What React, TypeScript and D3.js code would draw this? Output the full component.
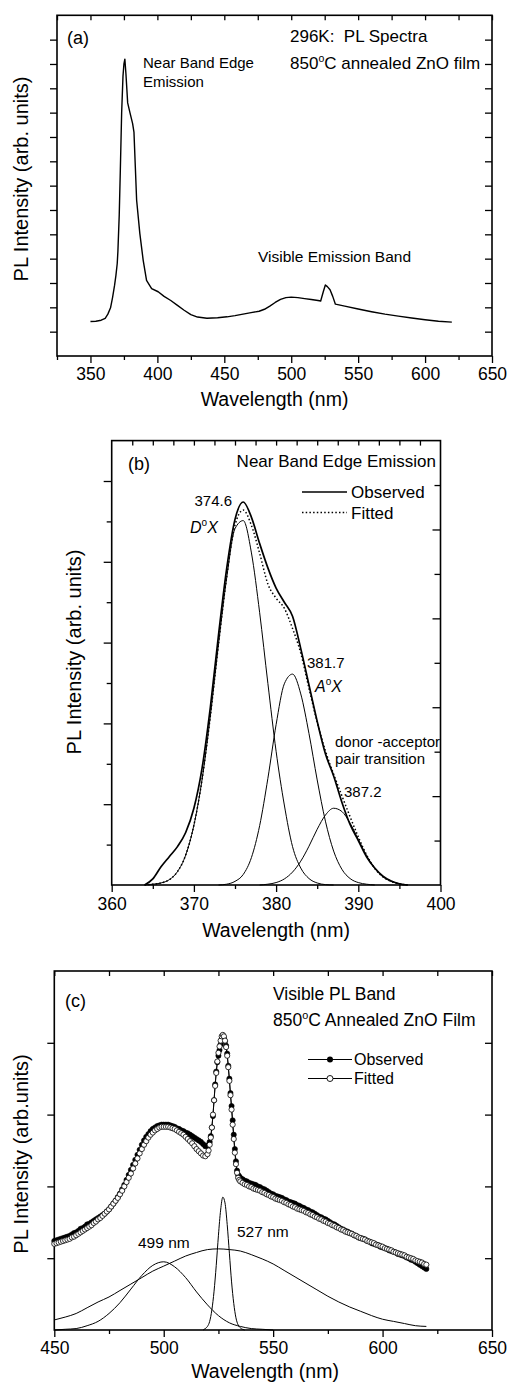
import { useEffect, useRef } from 'react';
import * as d3 from 'd3';

const FONT = '"Liberation Sans", Arial, Helvetica, sans-serif';

// ---------- (a) full PL spectrum at 296 K ----------
const specAWl = [350, 354, 358, 361, 363, 365, 366.5, 368, 369, 370, 370.5, 371.5, 372.3, 373.3, 374.3, 375, 375.7, 376.5, 377.8, 379.5,
  381.5, 382.5, 383.5, 384.5, 386.9, 389.4, 391.9, 395.7, 400.6, 405, 410, 415, 420, 425, 430, 437, 445, 452, 458, 464,
  470, 476, 480, 484, 488, 492, 496, 500, 505, 510, 515, 520, 522, 524, 525.5, 527, 529, 531, 533, 540,
  550, 560, 570, 580, 590, 600, 610, 620];
const specAInt = [1.42, 1.43, 1.47, 1.55, 1.72, 1.98, 2.4, 2.9, 3.3, 3.8, 4.3, 5.8, 7.6, 10.0, 11.5, 12.0, 12.2, 11.6, 10.4, 10.0,
  9.55, 9.2, 7.8, 6.4, 5.03, 3.93, 3.11, 2.77, 2.64, 2.45, 2.28, 2.08, 1.88, 1.70, 1.60, 1.55, 1.57, 1.61, 1.66, 1.72,
  1.78, 1.84, 1.92, 2.05, 2.20, 2.33, 2.40, 2.42, 2.40, 2.36, 2.32, 2.28, 2.26, 2.65, 2.92, 2.85, 2.72, 2.45, 2.13, 2.05,
  1.93, 1.82, 1.72, 1.64, 1.56, 1.49, 1.43, 1.39];

// ---------- (b) near band edge emission ----------
const nbeWl = [364, 365, 366, 367, 368, 369, 370, 371, 372, 373, 374, 375, 376, 377, 378, 379, 380,
  381, 382, 383, 384, 385, 386, 387, 388, 389, 390, 391, 392, 393, 394, 395, 396];
const nbeObserved = [0.00, 0.15, 0.45, 0.70, 0.95, 1.30, 1.90, 2.90, 4.40, 6.20, 7.85, 9.05, 9.48, 9.10, 8.45, 7.85, 7.35,
  7.00, 6.65, 5.85, 4.95, 4.05, 3.25, 2.70, 2.05, 1.50, 1.10, 0.70, 0.42, 0.22, 0.10, 0.03, 0.00];
const nbeFitted = [0.00, 0.02, 0.05, 0.13, 0.33, 0.74, 1.48, 2.62, 4.18, 5.98, 7.64, 8.91, 9.28, 8.90, 8.21, 7.45, 7.10,
  6.85, 6.35, 5.74, 4.87, 4.03, 3.32, 2.74, 2.21, 1.69, 1.19, 0.75, 0.41, 0.20, 0.09, 0.03, 0.00];
const doxWl = [364, 365, 366, 367, 368, 369, 370, 371, 372, 373, 374, 375, 376, 377, 378, 379, 380, 381, 382, 383, 384, 385, 386, 387];
const doxInt = [0.00, 0.02, 0.05, 0.13, 0.33, 0.74, 1.48, 2.62, 4.18, 5.97, 7.62, 8.82, 9.02, 8.22, 6.74, 4.99, 3.31, 1.98, 0.95, 0.42, 0.16, 0.05, 0.01, 0.00];
const aoxWl = [373, 374, 375, 376, 377, 378, 379, 380, 381, 382, 383, 384, 385, 386, 387, 388, 389, 390, 391, 392];
const aoxInt = [0.00, 0.02, 0.09, 0.26, 0.68, 1.47, 2.64, 3.97, 4.98, 5.22, 4.73, 3.75, 2.60, 1.58, 0.84, 0.39, 0.16, 0.06, 0.02, 0.00];
const dapWl = [378, 379, 380, 381, 382, 383, 384, 385, 386, 387, 388, 389, 390, 391, 392, 393, 394, 395, 396];
const dapInt = [0.00, 0.02, 0.06, 0.15, 0.32, 0.59, 0.96, 1.38, 1.73, 1.90, 1.82, 1.53, 1.13, 0.73, 0.41, 0.20, 0.09, 0.03, 0.00];

// ---------- (c) visible PL band ----------
// sampling grid: 1 nm on the broad band, 0.5 nm across the 527 nm line
const visWl = [...d3.range(450, 520.5, 1), ...d3.range(520.5, 535.25, 0.5), ...d3.range(536, 620.5, 1)];
const visObserved = [
  // 450 - 520
  1.24, 1.25, 1.26, 1.27, 1.28, 1.29, 1.30, 1.31, 1.33, 1.35, 1.36, 1.38, 1.41, 1.42, 1.44, 1.47, 1.48, 1.50, 1.52, 1.54,
  1.56, 1.58, 1.60, 1.62, 1.65, 1.68, 1.72, 1.76, 1.80, 1.85, 1.90, 1.96, 2.02, 2.09, 2.16, 2.23, 2.30, 2.37, 2.44, 2.51,
  2.58, 2.64, 2.69, 2.73, 2.77, 2.80, 2.82, 2.84, 2.85, 2.86, 2.86, 2.86, 2.86, 2.85, 2.84, 2.83, 2.81, 2.80, 2.78, 2.77,
  2.75, 2.74, 2.72, 2.70, 2.68, 2.66, 2.64, 2.62, 2.59, 2.56, 2.56,
  // 520.5 - 535
  2.58, 2.62, 2.70, 2.82, 2.98, 3.20, 3.42, 3.60, 3.73, 3.82, 3.90, 3.98, 4.05, 4.09, 4.07, 4.02, 3.96, 3.85, 3.68, 3.50,
  3.30, 3.12, 2.92, 2.72, 2.52, 2.35, 2.22, 2.16, 2.14, 2.12,
  // 536 - 620
  2.10, 2.08, 2.07, 2.05, 2.04, 2.03, 2.02, 2.00, 1.99, 1.97, 1.96, 1.94, 1.92, 1.90, 1.89, 1.87, 1.86, 1.85, 1.84, 1.82,
  1.81, 1.79, 1.78, 1.77, 1.76, 1.74, 1.73, 1.71, 1.70, 1.68, 1.67, 1.65, 1.64, 1.62, 1.60, 1.58, 1.57, 1.55, 1.54, 1.52,
  1.50, 1.48, 1.47, 1.45, 1.43, 1.41, 1.40, 1.38, 1.37, 1.35, 1.34, 1.32, 1.31, 1.29, 1.28, 1.27, 1.26, 1.24, 1.23, 1.21,
  1.20, 1.19, 1.18, 1.16, 1.15, 1.14, 1.13, 1.11, 1.10, 1.09, 1.08, 1.06, 1.05, 1.04, 1.03, 1.01, 1.00, 0.98, 0.97, 0.95,
  0.93, 0.91, 0.89, 0.87, 0.85];
const visFitted = [
  // 450 - 520
  1.20, 1.21, 1.22, 1.23, 1.24, 1.25, 1.26, 1.27, 1.29, 1.30, 1.32, 1.34, 1.36, 1.38, 1.40, 1.42, 1.44, 1.46, 1.49, 1.51,
  1.54, 1.56, 1.59, 1.62, 1.65, 1.68, 1.72, 1.76, 1.80, 1.84, 1.89, 1.94, 2.00, 2.06, 2.12, 2.18, 2.25, 2.32, 2.39, 2.46,
  2.52, 2.58, 2.63, 2.68, 2.72, 2.75, 2.78, 2.80, 2.82, 2.83, 2.83, 2.83, 2.83, 2.82, 2.81, 2.80, 2.78, 2.76, 2.74, 2.72,
  2.69, 2.66, 2.63, 2.60, 2.56, 2.52, 2.49, 2.46, 2.43, 2.42, 2.45,
  // 520.5 - 535
  2.50, 2.58, 2.68, 2.82, 3.00, 3.20, 3.40, 3.58, 3.74, 3.86, 3.95, 4.03, 4.09, 4.11, 4.09, 4.03, 3.94, 3.82, 3.66, 3.47,
  3.27, 3.07, 2.86, 2.66, 2.47, 2.31, 2.19, 2.12, 2.09, 2.07,
  // 536 - 620
  2.05, 2.03, 2.02, 2.00, 1.99, 1.97, 1.96, 1.95, 1.94, 1.92, 1.91, 1.89, 1.88, 1.86, 1.85, 1.83, 1.82, 1.81, 1.80, 1.78,
  1.77, 1.75, 1.74, 1.72, 1.71, 1.69, 1.68, 1.67, 1.66, 1.64, 1.63, 1.61, 1.60, 1.58, 1.57, 1.55, 1.54, 1.52, 1.51, 1.49,
  1.48, 1.46, 1.45, 1.43, 1.42, 1.40, 1.39, 1.37, 1.36, 1.35, 1.34, 1.32, 1.31, 1.29, 1.28, 1.27, 1.26, 1.24, 1.23, 1.22,
  1.21, 1.19, 1.18, 1.17, 1.16, 1.14, 1.13, 1.12, 1.11, 1.09, 1.08, 1.07, 1.06, 1.05, 1.04, 1.02, 1.01, 1.00, 0.99, 0.97,
  0.96, 0.95, 0.94, 0.92, 0.91];
const g499Wl = [450, 455, 460, 465, 470, 475, 480, 485, 490, 495, 500, 505, 510, 515, 520, 525, 530, 535, 540, 545, 550];
const g499Int = [0.00, 0.01, 0.02, 0.06, 0.12, 0.23, 0.38, 0.57, 0.76, 0.90, 0.95, 0.88, 0.73, 0.53, 0.35, 0.20, 0.10, 0.05, 0.02, 0.01, 0.00];
const gBroadWl = [450, 455, 460, 465, 470, 475, 480, 485, 490, 495, 500, 505, 510, 515, 520, 525, 530, 535, 540, 545,
  550, 555, 560, 565, 570, 575, 580, 585, 590, 595, 600, 605, 610, 615, 620];
const gBroadInt = [0.14, 0.18, 0.23, 0.31, 0.39, 0.46, 0.55, 0.64, 0.73, 0.82, 0.89, 0.96, 1.03, 1.08, 1.12, 1.13, 1.12, 1.10, 1.05, 0.99,
  0.92, 0.83, 0.74, 0.65, 0.56, 0.47, 0.39, 0.32, 0.26, 0.20, 0.15, 0.12, 0.09, 0.06, 0.05];
const g527Wl = [518, 519, 520, 521, 522, 523, 524, 525, 526, 527, 528, 529, 530, 531, 532, 533, 534, 535, 536, 537];
const g527Int = [0.00, 0.02, 0.05, 0.12, 0.28, 0.54, 0.90, 1.32, 1.67, 1.85, 1.77, 1.47, 1.07, 0.67, 0.37, 0.17, 0.07, 0.03, 0.01, 0.00];

// ---------- tick values ----------
const aXMajor = [350, 400, 450, 500, 550, 600, 650];
const aXMinor = [325, 375, 425, 475, 525, 575, 625];
const aYTicks = [1, 2, 3, 4, 5, 6, 7, 8, 9, 10, 11, 12, 13];
const bXMajor = [360, 370, 380, 390, 400];
const bXMinor = [365, 375, 385, 395];
const bXTop = [362.5, 365, 367.5, 370, 372.5, 375, 377.5, 380, 382.5, 385, 387.5, 390, 392.5, 395, 397.5];
const bYMajor = [2, 4, 6, 8, 10];
const bYMinor = [1, 3, 5, 7, 9];
const bYRightMajor = [2, 4, 6, 8];
const bYRightMinor = [1, 3, 5, 7, 9];
const cXMajor = [450, 500, 550, 600, 650];
const cXMinor = [475, 525, 575, 625];
const cYTicks = [1, 2, 3, 4];

export default function App() {
  const svgRef = useRef<SVGSVGElement>(null);

  useEffect(() => {
    const svg = d3.select(svgRef.current);
    svg.selectAll('*').remove();
    svg.attr('font-family', FONT);

    const addAxis = (gen: any, tx: number, ty: number, labelY?: number, size = 17.5) => {
      const g = svg.append('g').attr('transform', `translate(${tx},${ty})`).call(gen);
      g.select('.domain').remove();
      g.attr('font-family', FONT).attr('font-size', size);
      g.selectAll('line').attr('stroke-width', 1.3);
      if (labelY != null) g.selectAll('text').attr('y', labelY).attr('dy', null).attr('fill', '#000');
      return g;
    };
    const noLabel = () => '';

    const text = (x: number, y: number, s: string, size: number, anchor = 'start') =>
      svg.append('text').attr('x', x).attr('y', y).attr('font-size', size)
        .attr('text-anchor', anchor).style('white-space', 'pre').text(s);

    const degText = (x: number, y: number, pre: string, post: string, size: number) => {
      const t = svg.append('text').attr('x', x).attr('y', y).attr('font-size', size);
      t.append('tspan').text(pre);
      t.append('tspan').attr('font-size', size * 0.62).attr('dy', -size * 0.42).text('o');
      t.append('tspan').attr('dy', size * 0.42).text(post);
    };

    const italicLabel = (x: number, y: number, letter: string) => {
      const t = svg.append('text').attr('x', x).attr('y', y).attr('font-size', 16).attr('font-style', 'italic');
      t.append('tspan').text(letter);
      t.append('tspan').attr('font-size', 10).attr('dy', -7).attr('font-style', 'normal').text('o');
      t.append('tspan').attr('dy', 7).text('X');
    };

    const yTitle = (x: number, y: number, s: string) =>
      svg.append('text').attr('transform', `translate(${x},${y}) rotate(-90)`)
        .attr('text-anchor', 'middle').attr('font-size', 20).text(s);

    const frame = (x0: number, x1: number, y0: number, y1: number) =>
      svg.append('rect').attr('x', x0).attr('y', y1).attr('width', x1 - x0).attr('height', y0 - y1)
        .attr('fill', 'none').attr('stroke', '#000').attr('stroke-width', 1.6);

    const path = (wl: number[], vals: number[], x: any, y: any, width: number, dash?: string, curve: any = d3.curveMonotoneX) => {
      const line = d3.line<number>().x((_, i) => x(wl[i])).y(d => y(d)).curve(curve);
      const p = svg.append('path').attr('d', line(vals)).attr('fill', 'none')
        .attr('stroke', '#000').attr('stroke-width', width).attr('stroke-linejoin', 'round');
      if (dash) p.attr('stroke-dasharray', dash);
      return p;
    };

    // ===== Panel (a) =====
    const xA = d3.scaleLinear().domain([325, 650]).range([57, 492]);
    const yA = d3.scaleLinear().domain([0, 14]).range([356, 15.3]);
    addAxis(d3.axisBottom(xA).tickValues(aXMinor).tickSize(4).tickFormat(noLabel), 0, 356);
    addAxis(d3.axisBottom(xA).tickValues(aXMajor).tickSize(7).tickFormat(d3.format('d')), 0, 356, 24);
    addAxis(d3.axisBottom(xA).tickValues([...aXMajor, ...aXMinor]).tickSize(5).tickFormat(noLabel), 0, 15.3);
    addAxis(d3.axisLeft(yA).tickValues(aYTicks).tickSize(7).tickFormat(noLabel), 57, 0);
    addAxis(d3.axisLeft(yA).tickValues(aYTicks).tickSize(7).tickFormat(noLabel), 492, 0);
    frame(57, 492, 356, 15.3);
    path(specAWl, specAInt, xA, yA, 1.4, undefined, d3.curveLinear);
    text(67, 44, '(a)', 18);
    text(290, 42, '296K:  PL Spectra', 17);
    degText(290, 69, '850', 'C annealed ZnO film', 17);
    text(143, 68, 'Near Band Edge', 15);
    text(143, 87, 'Emission', 15);
    text(258, 262, 'Visible Emission Band', 15.5);
    text(274.5, 406, 'Wavelength (nm)', 19.5, 'middle');
    yTitle(28, 179, 'PL Intensity (arb. units)');

    // ===== Panel (b) =====
    const xB = d3.scaleLinear().domain([360, 400]).range([111.7, 440.5]);
    const yB = d3.scaleLinear().domain([0, 11]).range([885, 440.6]);
    const yBR = d3.scaleLinear().domain([0, 10]).range([885, 440.6]);
    addAxis(d3.axisBottom(xB).tickValues(bXMinor).tickSize(4).tickFormat(noLabel), 0, 885);
    addAxis(d3.axisBottom(xB).tickValues(bXMajor).tickSize(7).tickFormat(d3.format('d')), 0, 885, 25);
    addAxis(d3.axisBottom(xB).tickValues(bXTop).tickSize(5).tickFormat(noLabel), 0, 440.6);
    addAxis(d3.axisLeft(yB).tickValues(bYMajor).tickSize(8).tickFormat(noLabel), 111.7, 0);
    addAxis(d3.axisLeft(yB).tickValues(bYMinor).tickSize(5).tickFormat(noLabel), 111.7, 0);
    addAxis(d3.axisLeft(yBR).tickValues(bYRightMajor).tickSize(8).tickFormat(noLabel), 440.5, 0);
    addAxis(d3.axisLeft(yBR).tickValues(bYRightMinor).tickSize(6).tickFormat(noLabel), 440.5, 0);
    frame(111.7, 440.5, 885, 440.6);
    path(doxWl, doxInt, xB, yB, 1);
    path(aoxWl, aoxInt, xB, yB, 1);
    path(dapWl, dapInt, xB, yB, 1);
    path(nbeWl, nbeFitted, xB, yB, 1.5, '1.5,2.2');
    path(nbeWl, nbeObserved, xB, yB, 1.7);
    text(128, 470, '(b)', 18);
    text(436, 467, 'Near Band Edge Emission', 17, 'end');
    svg.append('line').attr('x1', 302).attr('x2', 347).attr('y1', 492).attr('y2', 492)
      .attr('stroke', '#000').attr('stroke-width', 1.7);
    svg.append('line').attr('x1', 302).attr('x2', 347).attr('y1', 512.5).attr('y2', 512.5)
      .attr('stroke', '#000').attr('stroke-width', 1.5).attr('stroke-dasharray', '1.5,2.2');
    text(351, 498, 'Observed', 17);
    text(351, 519, 'Fitted', 17);
    text(232, 506, '374.6', 15, 'end');
    italicLabel(190, 533, 'D');
    text(307, 668, '381.7', 15);
    italicLabel(315, 692, 'A');
    text(335, 747, 'donor -acceptor', 15);
    text(335, 764, 'pair transition', 15);
    text(344, 797, '387.2', 15);
    text(276, 937, 'Wavelength (nm)', 19.5, 'middle');
    yTitle(81, 652, 'PL Intensity (arb. units)');

    // ===== Panel (c) =====
    const xC = d3.scaleLinear().domain([450, 650]).range([54.3, 492]);
    const yC = d3.scaleLinear().domain([0, 5]).range([1330, 971]);
    addAxis(d3.axisBottom(xC).tickValues(cXMinor).tickSize(4).tickFormat(noLabel), 0, 1330);
    addAxis(d3.axisBottom(xC).tickValues(cXMajor).tickSize(7).tickFormat(d3.format('d')), 0, 1330, 24);
    addAxis(d3.axisBottom(xC).tickValues([...cXMajor, ...cXMinor]).tickSize(5).tickFormat(noLabel), 0, 971);
    addAxis(d3.axisLeft(yC).tickValues(cYTicks).tickSize(7).tickFormat(noLabel), 54.3, 0);
    addAxis(d3.axisLeft(yC).tickValues(cYTicks).tickSize(7).tickFormat(noLabel), 492, 0);
    frame(54.3, 492, 1330, 971);
    path(gBroadWl, gBroadInt, xC, yC, 1);
    path(g499Wl, g499Int, xC, yC, 1);
    path(g527Wl, g527Int, xC, yC, 1);

    path(visWl, visObserved, xC, yC, 0.9, undefined, d3.curveLinear);
    svg.append('g').selectAll('circle').data(visObserved).join('circle')
      .attr('cx', (_, i) => xC(visWl[i])).attr('cy', d => yC(d)).attr('r', 2.6)
      .attr('fill', '#000').attr('stroke', '#000').attr('stroke-width', 0.6);
    path(visWl, visFitted, xC, yC, 0.9, undefined, d3.curveLinear);
    svg.append('g').selectAll('circle').data(visFitted).join('circle')
      .attr('cx', (_, i) => xC(visWl[i])).attr('cy', d => yC(d)).attr('r', 2.6)
      .attr('fill', '#fff').attr('stroke', '#000').attr('stroke-width', 0.8);

    text(65, 1007, '(c)', 18);
    text(273, 1000, 'Visible PL Band', 17.5);
    degText(273, 1026, '850', 'C Annealed ZnO Film', 17.5);
    svg.append('line').attr('x1', 308).attr('x2', 352).attr('y1', 1059.5).attr('y2', 1059.5).attr('stroke', '#000').attr('stroke-width', 1);
    svg.append('circle').attr('cx', 330).attr('cy', 1059.5).attr('r', 3).attr('fill', '#000');
    svg.append('line').attr('x1', 308).attr('x2', 352).attr('y1', 1078.5).attr('y2', 1078.5).attr('stroke', '#000').attr('stroke-width', 1);
    svg.append('circle').attr('cx', 330).attr('cy', 1078.5).attr('r', 3).attr('fill', '#fff').attr('stroke', '#000').attr('stroke-width', 0.9);
    text(354, 1065, 'Observed', 16);
    text(354, 1084, 'Fitted', 16);
    text(138, 1248, '499 nm', 15.5);
    text(237, 1237, '527 nm', 15.5);
    text(265, 1378, 'Wavelength (nm)', 19.5, 'middle');
    yTitle(28, 1154, 'PL Intensity (arb.units)');
  }, []);

  return (
    <svg ref={svgRef} width={507} height={1385}
      style={{ position: 'absolute', left: 0, top: 0, background: '#fff' }} />
  );
}
